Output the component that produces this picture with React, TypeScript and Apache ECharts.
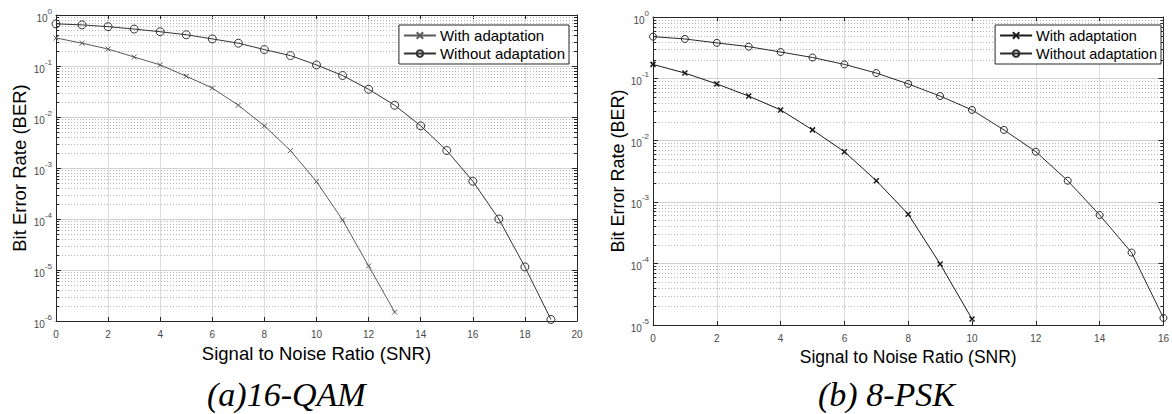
import React, { useEffect, useRef } from "react";
import * as echarts from "echarts";

// ---- Data ----
const qamSNRWith = [0, 1, 2, 3, 4, 5, 6, 7, 8, 9, 10, 11, 12, 13];
const qamBERWith = [0.355, 0.28, 0.215, 0.15, 0.105, 0.063, 0.037, 0.017, 0.0067, 0.0022, 5.4e-4, 9.6e-5, 1.2e-5, 1.5e-6];
const qamSNRWithout = [0, 1, 2, 3, 4, 5, 6, 7, 8, 9, 10, 11, 12, 13, 14, 15, 16, 17, 18, 19];
const qamBERWithout = [0.67, 0.64, 0.59, 0.53, 0.47, 0.41, 0.34, 0.28, 0.21, 0.16, 0.105, 0.065, 0.035, 0.017, 0.0067, 0.0022, 5.5e-4, 1.0e-4, 1.15e-5, 1.07e-6];

const pskSNRWith = [0, 1, 2, 3, 4, 5, 6, 7, 8, 9, 10];
const pskBERWith = [0.17, 0.123, 0.082, 0.052, 0.031, 0.0147, 0.0065, 0.0022, 6.3e-4, 9.8e-5, 1.25e-5];
const pskSNRWithout = [0, 1, 2, 3, 4, 5, 6, 7, 8, 9, 10, 11, 12, 13, 14, 15, 16];
const pskBERWithout = [0.48, 0.44, 0.38, 0.33, 0.27, 0.22, 0.17, 0.123, 0.082, 0.052, 0.031, 0.0147, 0.0065, 0.0022, 6.1e-4, 1.5e-4, 1.3e-5];

const seriesNames = ["With adaptation", "Without adaptation"];
const captions = ["(a)16-QAM", "(b) 8-PSK"];
const xAxisName = "Signal to Noise Ratio (SNR)";
const yAxisName = "Bit Error Rate (BER)";
const minorMultipliers = [2, 3, 4, 5, 6, 7, 8, 9];

const FONT = '"Liberation Sans", Arial, sans-serif';
const X_SYMBOL = "path://M0,0L10,10M10,0L0,10";

function pairs(xs: number[], ys: number[]) {
  return xs.map((x, i) => [x, ys[i]]);
}

function minorValues(minExp: number) {
  const out: number[] = [];
  for (let e = minExp; e < 0; e++) {
    for (const m of minorMultipliers) out.push(m * Math.pow(10, e));
  }
  return out;
}

// minor dotted grid lines + minor ticks on the left/right axes, drawn via the axes' scales
function minorSeries(axisIndex: number, minExp: number, xMax: number) {
  return {
    type: "custom",
    xAxisIndex: axisIndex,
    yAxisIndex: axisIndex,
    silent: true,
    z: 1,
    clip: false,
    data: minorValues(minExp).map((v) => [0, v]),
    encode: { x: 0, y: 1 },
    renderItem: (_params: any, api: any) => {
      const v = api.value(1);
      const p0 = api.coord([0, v]);
      const p1 = api.coord([xMax, v]);
      const y = Math.round(p0[1]) + 0.5;
      return {
        type: "group",
        children: [
          {
            type: "line",
            shape: { x1: p0[0], y1: y, x2: p1[0], y2: y },
            style: { stroke: "#b5b5b5", lineWidth: 1, lineDash: [1, 2] },
          },
          {
            type: "line",
            shape: { x1: p0[0], y1: y, x2: p0[0] + 3, y2: y },
            style: { stroke: "#262626", lineWidth: 1 },
          },
          {
            type: "line",
            shape: { x1: p1[0] - 3, y1: y, x2: p1[0], y2: y },
            style: { stroke: "#262626", lineWidth: 1 },
          },
        ],
      };
    },
  };
}

const yLabelFormatter = (v: number) => {
  const e = Math.round(Math.log10(v));
  return "{b|10}{s|" + e + "}";
};

const yLabelRich = {
  b: { fontSize: 10, color: "#4a4a4a", fontFamily: FONT, padding: [6, 0, 0, 0], verticalAlign: "bottom" },
  s: { fontSize: 8, color: "#4a4a4a", fontFamily: FONT, verticalAlign: "top" },
};

function xAxes(gridIndex: number, max: number, nameSize: number) {
  const common = {
    gridIndex,
    type: "value",
    min: 0,
    max,
    interval: 2,
    axisLine: { onZero: false, lineStyle: { color: "#262626", width: 1 } },
    axisTick: { inside: true, length: 4, lineStyle: { color: "#262626" } },
  };
  return [
    {
      ...common,
      position: "bottom",
      axisLabel: { fontSize: 10, color: "#4a4a4a", fontFamily: FONT, margin: 8 },
      splitLine: { show: true, lineStyle: { color: "#dcdcdc", width: 1 } },
      name: xAxisName,
      nameLocation: "middle",
      nameGap: 20,
      nameTextStyle: { fontSize: nameSize, color: "#000", fontFamily: FONT },
    },
    {
      ...common,
      position: "top",
      axisLabel: { show: false },
      splitLine: { show: false },
    },
  ];
}

function yAxes(gridIndex: number, min: number, splitNumber: number, nameSize: number, nameGap: number) {
  const common = {
    gridIndex,
    type: "log",
    logBase: 10,
    min,
    max: 1,
    splitNumber,
    axisLine: { onZero: false, lineStyle: { color: "#262626", width: 1 } },
    axisTick: { inside: true, length: 5, lineStyle: { color: "#262626" } },
  };
  return [
    {
      ...common,
      position: "left",
      axisLabel: { formatter: yLabelFormatter, rich: yLabelRich, margin: 4 },
      splitLine: { show: true, lineStyle: { color: "#d0d0d0", width: 1 } },
      name: yAxisName,
      nameLocation: "middle",
      nameGap,
      nameTextStyle: { fontSize: nameSize, color: "#000", fontFamily: FONT },
    },
    {
      ...common,
      position: "right",
      axisLabel: { show: false },
      splitLine: { show: false },
    },
  ];
}

function legend(gridRight: number, names: string[], fontSize: number) {
  return {
    data: names,
    orient: "vertical",
    right: gridRight,
    top: 25,
    backgroundColor: "#fff",
    borderColor: "#262626",
    borderWidth: 1,
    borderRadius: 0,
    padding: [3, 4, 3, 4],
    itemGap: 3,
    itemWidth: 32,
    itemHeight: 8,
    formatter: (n: string) => n.trim(),
    textStyle: { fontSize, color: "#000", fontFamily: FONT, padding: [0, 0, 0, -1] },
  };
}

export default function App() {
  const ref = useRef<HTMLDivElement>(null);

  useEffect(() => {
    if (!ref.current) return;
    const chart = echarts.init(ref.current, undefined, { renderer: "svg" });

    const namesRight = seriesNames.map((n) => n + " ");
    const captionFont = 'italic 34px "Liberation Serif", "Times New Roman", serif';

    const option: any = {
      animation: false,
      backgroundColor: "#fff",
      grid: [
        { left: 56, top: 15, width: 521, height: 306 },
        { left: 653, top: 17, width: 517, height: 308 },
      ],
      legend: [legend(1172 - 569, seriesNames, 15), legend(1172 - 1161, namesRight, 14.5)],
      xAxis: [...xAxes(0, 20, 18.5), ...xAxes(1, 16, 17.5)],
      yAxis: [...yAxes(0, 1e-6, 6, 18.5, 27), ...yAxes(1, 1e-5, 5, 18, 25)],
      series: [
        minorSeries(0, -6, 20),
        minorSeries(2, -5, 16),
        {
          name: seriesNames[0],
          type: "line",
          xAxisIndex: 0,
          yAxisIndex: 0,
          z: 3,
          data: pairs(qamSNRWith, qamBERWith),
          symbol: X_SYMBOL,
          symbolSize: 5,
          showAllSymbol: true,
          lineStyle: { color: "#5a5a5a", width: 1 },
          itemStyle: { color: "rgba(0,0,0,0)", borderColor: "#5a5a5a", borderWidth: 1 },
          emphasis: { disabled: true },
        },
        {
          name: seriesNames[1],
          type: "line",
          xAxisIndex: 0,
          yAxisIndex: 0,
          z: 3,
          data: pairs(qamSNRWithout, qamBERWithout),
          symbol: "circle",
          symbolSize: 8,
          showAllSymbol: true,
          lineStyle: { color: "#333", width: 1 },
          itemStyle: { color: "rgba(0,0,0,0)", borderColor: "#333", borderWidth: 1 },
          emphasis: { disabled: true },
        },
        {
          name: namesRight[0],
          type: "line",
          xAxisIndex: 2,
          yAxisIndex: 2,
          z: 3,
          data: pairs(pskSNRWith, pskBERWith),
          symbol: X_SYMBOL,
          symbolSize: 5,
          showAllSymbol: true,
          lineStyle: { color: "#1a1a1a", width: 1 },
          itemStyle: { color: "rgba(0,0,0,0)", borderColor: "#1a1a1a", borderWidth: 1.5 },
          emphasis: { disabled: true },
        },
        {
          name: namesRight[1],
          type: "line",
          xAxisIndex: 2,
          yAxisIndex: 2,
          z: 3,
          data: pairs(pskSNRWithout, pskBERWithout),
          symbol: "circle",
          symbolSize: 7,
          showAllSymbol: true,
          lineStyle: { color: "#2a2a2a", width: 1 },
          itemStyle: { color: "rgba(0,0,0,0)", borderColor: "#2a2a2a", borderWidth: 1 },
          emphasis: { disabled: true },
        },
      ],
      graphic: [
        {
          type: "text",
          left: 207,
          top: 377,
          style: { text: captions[0], font: captionFont, fill: "#000" },
        },
        {
          type: "text",
          left: 818,
          top: 377,
          style: { text: captions[1], font: captionFont, fill: "#000" },
        },
      ],
    };

    chart.setOption(option);
    return () => chart.dispose();
  }, []);

  return (
    <div
      ref={ref}
      style={{ position: "fixed", left: 0, top: 0, width: 1172, height: 414, background: "#fff" }}
    />
  );
}
